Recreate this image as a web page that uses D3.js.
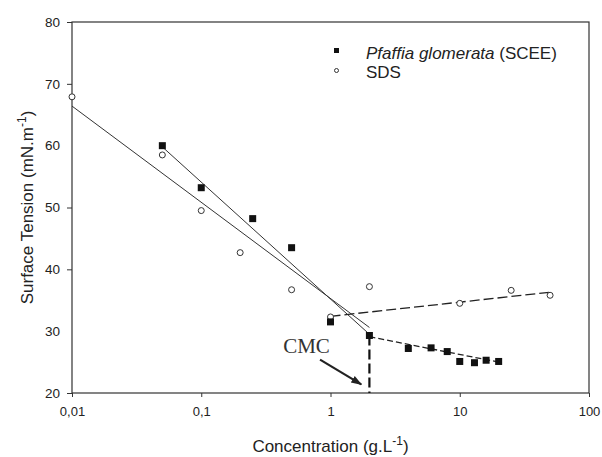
<!DOCTYPE html>
<html>
<head>
<meta charset="utf-8">
<script src="https://cdn.jsdelivr.net/npm/d3@7"></script>
<style>
    body { margin: 0; background: #fff; }
    text { font-family: "Liberation Sans", Arial, sans-serif; fill: #222; }
</style>
</head>
<body>
<div id="chart"></div>
<script>
// Pfaffia glomerata (SCEE) measurements
const sceeConc = [0.05, 0.1, 0.25, 0.5, 1, 2, 4, 6, 8, 10, 13, 16, 20];
const sceeTension = [60.0, 53.2, 48.2, 43.5, 31.5, 29.3, 27.2, 27.3, 26.7, 25.1, 24.9, 25.3, 25.1];

// SDS measurements
const sdsConc = [0.01, 0.05, 0.1, 0.2, 0.5, 1, 2, 10, 25, 50];
const sdsTension = [67.9, 58.5, 49.5, 42.7, 36.7, 32.3, 37.2, 34.5, 36.6, 35.8];

// fitted lines, end points
const sceeFitConc = [0.05, 2];
const sceeFitTension = [59.8, 29.5];
const sceeFit2Conc = [2, 20];
const sceeFit2Tension = [29.1, 25.0];
const sdsFitConc = [0.01, 2];
const sdsFitTension = [66.4, 30.6];
const sdsFit2Conc = [1, 50];
const sdsFit2Tension = [32.4, 36.3];

// CMC annotation
const cmcConc = 2;
const cmcTension = 29.3;
const cmcLabel = [0.43, 26.5];
const cmcArrowFrom = [0.83, 25.4];
const cmcArrowTo = [1.73, 21.4];

// axis ticks
const xTicks = [0.01, 0.1, 1, 10, 100];
const xTickLabels = ["0,01", "0,1", "1", "10", "100"];
const yTicks = [20, 30, 40, 50, 60, 70, 80];
const yTickMarks = [20, 40, 50, 70, 80];

const margin = {top: 22, right: 13, bottom: 64, left: 72};
const width = 602 - margin.left - margin.right;
const height = 457 - margin.top - margin.bottom;

const svg = d3.select("#chart")
    .append("svg")
    .attr("width", 602)
    .attr("height", 457);

const g = svg.append("g")
    .attr("transform", `translate(${margin.left},${margin.top})`);

const x = d3.scaleLog().domain([0.01, 100]).range([0, width]);
const y = d3.scaleLinear().domain([20, 80]).range([height, 0]);

// arrow head
svg.append("defs").append("marker")
    .attr("id", "arrow")
    .attr("viewBox", "0 0 10 10")
    .attr("refX", 9).attr("refY", 5)
    .attr("markerWidth", 5).attr("markerHeight", 5)
    .attr("orient", "auto")
    .append("path")
    .attr("d", "M0,1.5 L10,5 L0,8.5 Z")
    .attr("fill", "#222");

// axes
let xAxis = g.append("g")
    .attr("transform", `translate(0,${height})`)
    .call(d3.axisBottom(x)
        .tickValues(xTicks)
        .tickFormat((d, i) => xTickLabels[i])
        .tickSize(4)
        .tickPadding(10)
        .tickSizeOuter(0));
xAxis.select(".domain").remove();
xAxis.selectAll("text").style("font-size", "13px");

let yAxis = g.append("g")
    .call(d3.axisLeft(y)
        .tickValues(yTicks)
        .tickSize(5)
        .tickPadding(7)
        .tickSizeOuter(0));
yAxis.select(".domain").remove();
yAxis.selectAll("text").style("font-size", "13.5px");
yAxis.selectAll(".tick line")
    .filter(d => !yTickMarks.includes(d))
    .remove();

g.selectAll(".tick line").attr("stroke", "#333");

// frame
g.append("rect")
    .attr("width", width)
    .attr("height", height)
    .attr("fill", "none")
    .attr("stroke", "#333")
    .attr("stroke-width", 1.2);

// axis titles
let xTitle = svg.append("text")
    .attr("x", margin.left + width / 2)
    .attr("y", 452)
    .attr("text-anchor", "middle")
    .style("font-size", "17px");
xTitle.append("tspan").text("Concentration (g.L");
xTitle.append("tspan").attr("dy", -7).style("font-size", "12px").text("-1");
xTitle.append("tspan").attr("dy", 7).text(")");

let yTitle = svg.append("text")
    .attr("transform", `translate(33,${margin.top + height / 2}) rotate(-90)`)
    .attr("text-anchor", "middle")
    .style("font-size", "17px");
yTitle.append("tspan").text("Surface Tension (mN.m");
yTitle.append("tspan").attr("dy", -7).style("font-size", "12px").text("-1");
yTitle.append("tspan").attr("dy", 7).text(")");

// lines
const line = d3.line().x(d => x(d[0])).y(d => y(d[1]));

g.append("path")
    .datum(d3.zip(sdsFitConc, sdsFitTension))
    .attr("d", line)
    .attr("fill", "none").attr("stroke", "#333").attr("stroke-width", 1);

g.append("path")
    .datum(d3.zip(sceeFitConc, sceeFitTension))
    .attr("d", line)
    .attr("fill", "none").attr("stroke", "#333").attr("stroke-width", 1);

g.append("path")
    .datum(d3.zip(sdsFit2Conc, sdsFit2Tension))
    .attr("d", line)
    .attr("fill", "none").attr("stroke", "#222").attr("stroke-width", 1.3)
    .attr("stroke-dasharray", "10,4");

g.append("path")
    .datum(d3.zip(sceeFit2Conc, sceeFit2Tension))
    .attr("d", line)
    .attr("fill", "none").attr("stroke", "#222").attr("stroke-width", 1.3)
    .attr("stroke-dasharray", "6,3");

// CMC vertical line
g.append("line")
    .attr("x1", x(cmcConc)).attr("x2", x(cmcConc))
    .attr("y1", y(cmcTension)).attr("y2", y(20))
    .attr("stroke", "#111").attr("stroke-width", 2.2)
    .attr("stroke-dasharray", "10,4");

// points
g.selectAll(".sds")
    .data(d3.zip(sdsConc, sdsTension))
    .enter().append("circle")
    .attr("class", "sds")
    .attr("cx", d => x(d[0]))
    .attr("cy", d => y(d[1]))
    .attr("r", 3)
    .attr("fill", "#fff")
    .attr("stroke", "#333")
    .attr("stroke-width", 1);

g.selectAll(".scee")
    .data(d3.zip(sceeConc, sceeTension))
    .enter().append("rect")
    .attr("class", "scee")
    .attr("x", d => x(d[0]) - 3.5)
    .attr("y", d => y(d[1]) - 3.5)
    .attr("width", 7)
    .attr("height", 7)
    .attr("fill", "#111");

// CMC annotation
g.append("text")
    .attr("x", x(cmcLabel[0]))
    .attr("y", y(cmcLabel[1]))
    .style("font-family", "'Liberation Serif', 'Times New Roman', serif")
    .style("font-size", "21px")
    .style("fill", "#333")
    .text("CMC");

g.append("line")
    .attr("x1", x(cmcArrowFrom[0])).attr("y1", y(cmcArrowFrom[1]))
    .attr("x2", x(cmcArrowTo[0])).attr("y2", y(cmcArrowTo[1]))
    .attr("stroke", "#222").attr("stroke-width", 2.2)
    .attr("marker-end", "url(#arrow)");

// legend
let legend = svg.append("g");
legend.append("rect")
    .attr("x", 334).attr("y", 48)
    .attr("width", 5).attr("height", 5)
    .attr("fill", "#111");
legend.append("circle")
    .attr("cx", 336.5).attr("cy", 70.5)
    .attr("r", 2)
    .attr("fill", "#fff").attr("stroke", "#333");

let l1 = legend.append("text")
    .attr("x", 366).attr("y", 58.5)
    .style("font-size", "17px");
l1.append("tspan").style("font-style", "italic").text("Pfaffia glomerata");
l1.append("tspan").text(" (SCEE)");

legend.append("text")
    .attr("x", 366).attr("y", 78)
    .style("font-size", "17px")
    .text("SDS");
</script>
</body>
</html>
